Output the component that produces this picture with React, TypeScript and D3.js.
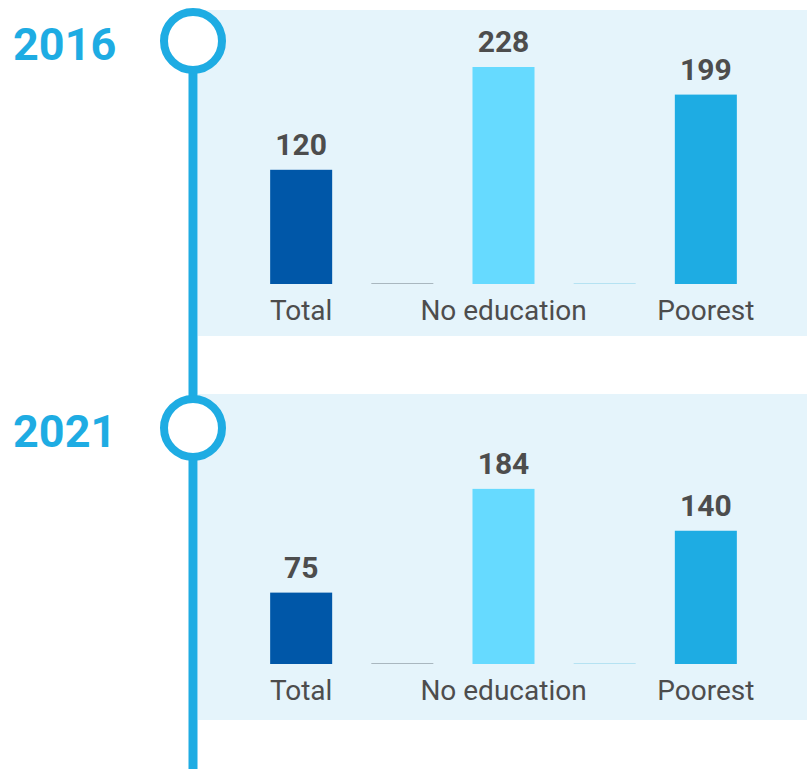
import { useEffect, useRef } from "react";
import * as d3 from "d3";

// two snapshots of the same five slots; the gaps are empty slots (value 0)
const years = ["2016", "2021"];
const categories = ["Total", "", "No education", "", "Poorest"];
const values2016 = [120, 0, 228, 0, 199];
const values2021 = [75, 0, 184, 0, 140];
const barColors = ["#0057a8", "#a9b7bf", "#66daff", "#b5e2f2", "#1eace3"];

const W = 807;
const H = 769;

function App() {
  const svgRef = useRef<SVGSVGElement>(null);

  useEffect(() => {
    const svg = d3.select(svgRef.current);
    svg.selectAll("*").remove();

    const x = d3
      .scaleBand<number>()
      .domain(d3.range(categories.length))
      .range([231, 776])
      .padding(0.387);

    const h = d3.scaleLinear().domain([0, 228]).range([0, 217]);

    const panels = [
      { year: years[0], values: values2016, top: 10, bottom: 336, base: 284, cy: 41 },
      { year: years[1], values: values2021, top: 394, bottom: 720, base: 664, cy: 428 },
    ];

    // panel backgrounds
    panels.forEach((p) => {
      svg
        .append("rect")
        .attr("x", 198)
        .attr("y", p.top)
        .attr("width", W - 198)
        .attr("height", p.bottom - p.top)
        .attr("fill", "#e5f4fb");
    });

    // timeline
    svg
      .append("line")
      .attr("x1", 193)
      .attr("x2", 193)
      .attr("y1", panels[0].cy)
      .attr("y2", H)
      .attr("stroke", "#1eace3")
      .attr("stroke-width", 9);

    panels.forEach((p) => {
      svg
        .append("circle")
        .attr("cx", 193)
        .attr("cy", p.cy)
        .attr("r", 29)
        .attr("fill", "#fff")
        .attr("stroke", "#1eace3")
        .attr("stroke-width", 8);

      svg
        .append("text")
        .attr("x", 13)
        .attr("y", p.cy + 19)
        .attr("font-family", "Roboto")
        .attr("font-weight", 700)
        .attr("font-size", 45)
        .attr("fill", "#1eace3")
        .text(p.year);

      const g = svg.append("g");
      p.values.forEach((v, i) => {
        if (v === 0) {
          g.append("line")
            .attr("x1", x(i)!)
            .attr("x2", x(i)! + x.bandwidth())
            .attr("y1", p.base - 0.5)
            .attr("y2", p.base - 0.5)
            .attr("stroke", barColors[i])
            .attr("stroke-width", 1);
          return;
        }
        g.append("rect")
          .attr("x", x(i)!)
          .attr("y", p.base - h(v))
          .attr("width", x.bandwidth())
          .attr("height", h(v))
          .attr("fill", barColors[i]);
        g.append("text")
          .attr("x", x(i)! + x.bandwidth() / 2)
          .attr("y", p.base - h(v) - 15)
          .attr("text-anchor", "middle")
          .attr("font-family", "Roboto")
          .attr("font-weight", 700)
          .attr("font-size", 30)
          .attr("fill", "#4d4d4d")
          .text(v);
        g.append("text")
          .attr("x", x(i)! + x.bandwidth() / 2)
          .attr("y", p.base + 36)
          .attr("text-anchor", "middle")
          .attr("font-family", "Roboto")
          .attr("font-size", 28)
          .attr("fill", "#4d4d4d")
          .text(categories[i]);
      });
    });
  }, []);

  return (
    <svg
      ref={svgRef}
      width={W}
      height={H}
      style={{ position: "absolute", left: 0, top: 0, background: "#fff" }}
    ></svg>
  );
}

export default App;
